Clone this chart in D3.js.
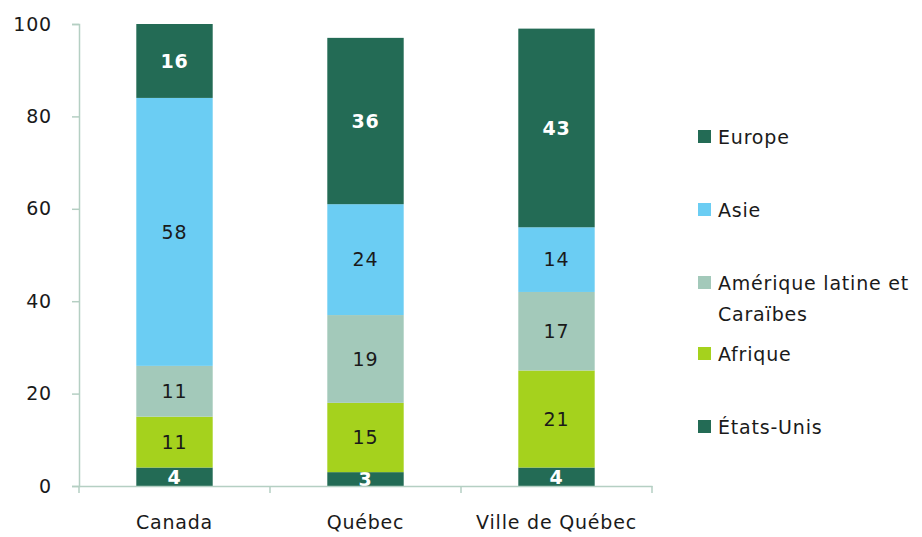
<!DOCTYPE html>
<html><head><meta charset="utf-8">
<script src="https://cdn.jsdelivr.net/npm/d3@7"></script>
<style>body{margin:0;background:#fff}text{font-family:"DejaVu Sans",sans-serif;letter-spacing:0.8px}</style>
</head><body><svg id="c" width="922" height="537"></svg>
<script>
const categories = ["Canada", "Québec", "Ville de Québec"];
const seriesNames = ["États-Unis", "Afrique", "Amérique latine et Caraïbes", "Asie", "Europe"];
const etatsUnis = [4, 3, 4];
const afrique = [11, 15, 21];
const ameriqueLatine = [11, 19, 17];
const asie = [58, 24, 14];
const europe = [16, 36, 43];
const yTicks = [0, 20, 40, 60, 80, 100];
const colors = ["#236B55", "#A5D21D", "#A3C9BA", "#6BCDF3", "#236B55"];
const labelColors = ["#fff", "#1a1a1a", "#1a1a1a", "#1a1a1a", "#fff"];
const labelWeights = ["bold", "normal", "normal", "normal", "bold"];

const values = [etatsUnis, afrique, ameriqueLatine, asie, europe];
const data = categories.map((c, i) => {
  const o = {cat: c};
  seriesNames.forEach((s, j) => o[s] = values[j][i]);
  return o;
});
const stack = d3.stack().keys(seriesNames)(data);

const svg = d3.select("#c");
const x = d3.scaleBand().domain(categories).range([79, 652]).paddingInner(0.6).paddingOuter(0.3);
const y = d3.scaleLinear().domain([0, 100]).range([486, 24]);
const axisColor = "#B5CFC3";
const FS = 19;

// bars
stack.forEach((layer, j) => {
  const g = svg.append("g");
  g.selectAll("rect").data(layer).join("rect")
    .attr("x", d => x(d.data.cat)).attr("width", x.bandwidth())
    .attr("y", d => y(d[1])).attr("height", d => y(d[0]) - y(d[1]))
    .attr("fill", colors[j]);
  g.selectAll("text").data(layer).join("text")
    .attr("x", d => x(d.data.cat) + x.bandwidth() / 2)
    .attr("y", d => (y(d[0]) + y(d[1])) / 2)
    .attr("dy", "0.36em")
    .attr("text-anchor", "middle")
    .attr("font-size", FS)
    .attr("font-weight", labelWeights[j])
    .attr("fill", labelColors[j])
    .text(d => d[1] - d[0]);
});

// y axis
const ya = svg.append("g").attr("transform", "translate(79,0)")
  .call(d3.axisLeft(y).tickValues(yTicks).tickSize(7).tickPadding(20));
ya.select(".domain").attr("stroke", axisColor).attr("stroke-width", 1.5);
ya.selectAll(".tick line").attr("stroke", axisColor).attr("stroke-width", 1.5);
ya.selectAll(".tick text").attr("font-size", FS).attr("fill", "#1a1a1a").attr("font-family", "DejaVu Sans");

// x axis
const xa = svg.append("g").attr("transform", "translate(0,486)")
  .call(d3.axisBottom(x).tickSize(0).tickPadding(30));
xa.select(".domain").attr("stroke", axisColor).attr("stroke-width", 1.5);
xa.selectAll(".tick text").attr("font-size", FS).attr("fill", "#1a1a1a").attr("font-family", "DejaVu Sans");
const bounds = d3.range(categories.length + 1).map(i => 79 + i * (652 - 79) / categories.length);
xa.selectAll("line.sep").data(bounds).join("line").attr("class", "sep")
  .attr("x1", d => d).attr("x2", d => d).attr("y1", 0).attr("y2", 7)
  .attr("stroke", axisColor).attr("stroke-width", 1.5);

// legend
const legendItems = [
  {color: colors[4], lines: ["Europe"], y: 137},
  {color: colors[3], lines: ["Asie"], y: 210},
  {color: colors[2], lines: ["Amérique latine et", "Caraïbes"], y: 283},
  {color: colors[1], lines: ["Afrique"], y: 354},
  {color: colors[0], lines: ["États-Unis"], y: 427}
];
const lg = svg.append("g");
legendItems.forEach(it => {
  lg.append("rect").attr("x", 698).attr("y", it.y - 7).attr("width", 13).attr("height", 13).attr("fill", it.color);
  const t = lg.append("text").attr("x", 718).attr("y", it.y)
    .attr("font-size", FS).attr("fill", "#1a1a1a");
  it.lines.forEach((l, i) => t.append("tspan").attr("x", 718).attr("dy", i === 0 ? "0.36em" : 31).text(l));
});
</script></body></html>
